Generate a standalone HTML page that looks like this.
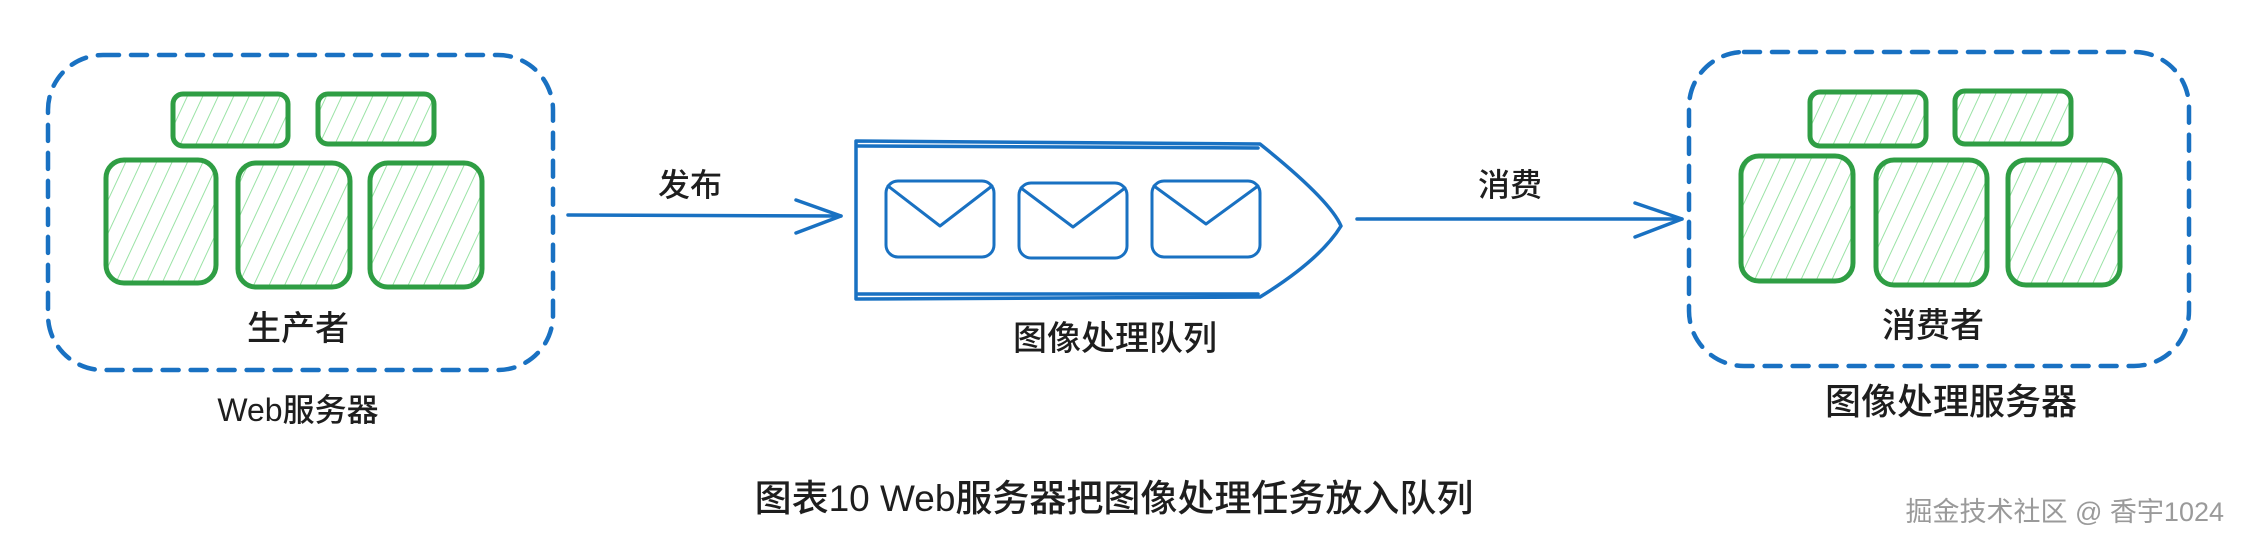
<!DOCTYPE html>
<html><head><meta charset="utf-8"><style>
html,body{margin:0;padding:0;background:#fff;}
svg{display:block}
text{font-family:"Liberation Sans","Noto Sans CJK SC",sans-serif;fill:#1e1e1e;font-weight:500;}
</style></head><body>
<svg width="2242" height="544" viewBox="0 0 2242 544" xmlns="http://www.w3.org/2000/svg">
<defs>
<pattern id="h" width="14" height="14" patternUnits="userSpaceOnUse" patternTransform="rotate(25)">
<line x1="0" y1="0" x2="0" y2="14" stroke="#8fe09c" stroke-width="1.8"/>
</pattern>
</defs>
<g fill="none" stroke="#1971c2" stroke-width="4.5" stroke-dasharray="16 12" stroke-linecap="round">
<rect x="48" y="55" width="505" height="315" rx="55"/>
<rect x="1689" y="52" width="500" height="314" rx="55"/>
</g>
<g fill="url(#h)" stroke="#2f9e44" stroke-width="5">
<rect x="173" y="94" width="115" height="52" rx="10"/>
<rect x="318" y="94" width="116" height="50" rx="10"/>
<rect x="106" y="160" width="110" height="123" rx="18"/>
<rect x="238" y="163" width="112" height="124" rx="18"/>
<rect x="370" y="163" width="112" height="124" rx="18"/>
<rect x="1810" y="92" width="116" height="54" rx="10"/>
<rect x="1955" y="91" width="116" height="53" rx="10"/>
<rect x="1741" y="156" width="112" height="125" rx="18"/>
<rect x="1876" y="160" width="111" height="125" rx="18"/>
<rect x="2008" y="160" width="112" height="125" rx="18"/>
</g>
<text x="298" y="340" font-size="34" text-anchor="middle">生产者</text>
<text x="298" y="421" font-size="32" text-anchor="middle">Web服务器</text>
<text x="1933" y="337" font-size="34" text-anchor="middle">消费者</text>
<text x="1951" y="414" font-size="36" text-anchor="middle">图像处理服务器</text>
<text x="690" y="196" font-size="32" text-anchor="middle">发布</text>
<text x="1510" y="196" font-size="32" text-anchor="middle">消费</text>
<text x="1115" y="350" font-size="34" text-anchor="middle">图像处理队列</text>
<text x="1114" y="511" font-size="37" text-anchor="middle">图表10 Web服务器把图像处理任务放入队列</text>
<text x="2224" y="521" font-size="27" text-anchor="end" style="fill:#9a9a9a;font-weight:400">掘金技术社区 @ 香宇1024</text>
<g fill="none" stroke="#1971c2" stroke-width="3.5" stroke-linecap="round" stroke-linejoin="round">
<line x1="568" y1="215" x2="841" y2="216"/>
<polyline points="796,200 841,216 796,233"/>
<line x1="1357" y1="219" x2="1682" y2="219"/>
<polyline points="1635,203 1682,219 1635,237"/>
<path d="M856 141 L1260 144 Q1330 200 1341 226 Q1320 260 1260 297 L856 299 Z"/>
<line x1="858" y1="146" x2="1258" y2="148"/>
<line x1="858" y1="294" x2="1258" y2="294"/>
<g stroke-width="3">
<rect x="886" y="181" width="108" height="76" rx="12"/>
<path d="M888 186 L940 226 L992 186"/>
<rect x="1019" y="183" width="108" height="75" rx="12"/>
<path d="M1021 188 L1073 227 L1125 188"/>
<rect x="1152" y="181" width="108" height="76" rx="12"/>
<path d="M1154 186 L1206 224 L1258 186"/>
</g>
</g>
</svg>
</body></html>
